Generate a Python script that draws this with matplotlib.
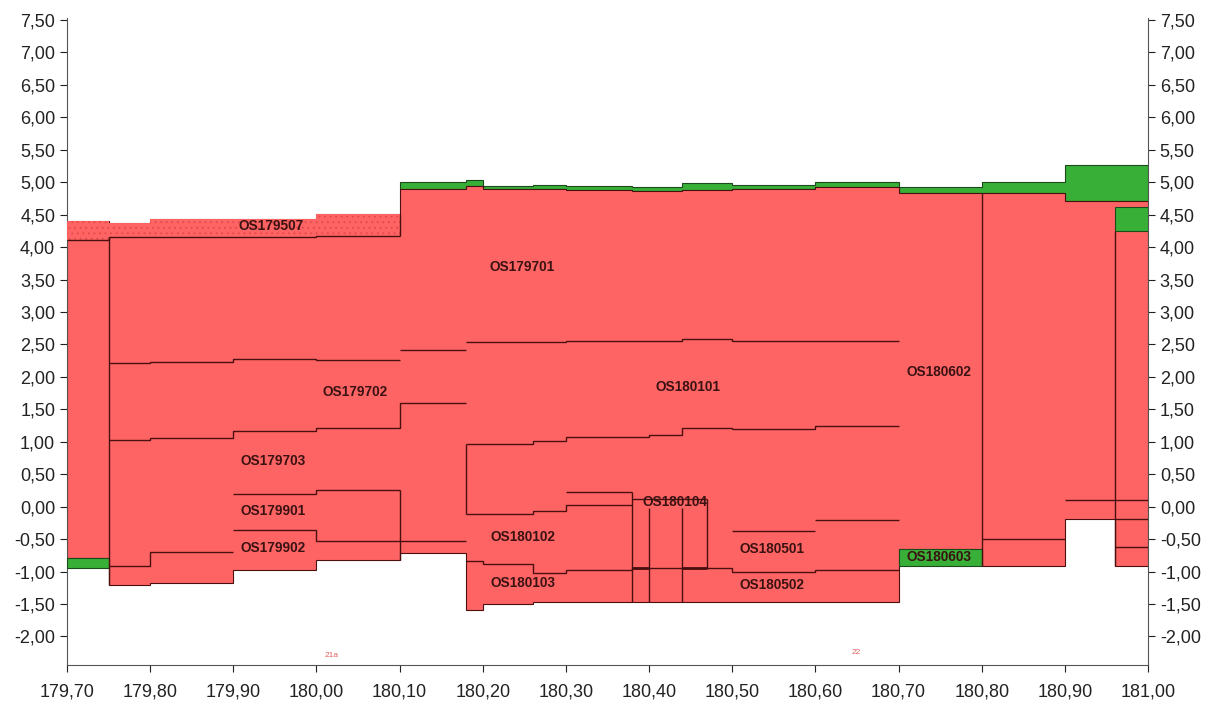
import numpy as np
import matplotlib.pyplot as plt
from matplotlib.ticker import FuncFormatter

plt.rcParams['font.family'] = ['Liberation Sans', 'DejaVu Sans']
plt.rcParams['hatch.linewidth'] = 0.6

# outer profile of the section (chainage, level)
top_edges = [179.70, 179.75, 179.80, 180.00, 180.10, 180.18, 180.20, 180.26, 180.30,
             180.38, 180.44, 180.50, 180.60, 180.70, 180.80, 180.90, 181.00]
red_top = [4.40, 4.37, 4.44, 4.51, 4.89, 4.94, 4.90, 4.90, 4.88, 4.87, 4.88, 4.89,
           4.92, 4.83, 4.84, 4.71]
# green capping from 180.10 onwards
green_top = [5.00, 5.03, 4.94, 4.96, 4.94, 4.92, 4.98, 4.96, 5.00, 4.92, 5.00, 5.27]

bot_edges = [179.70, 179.75, 179.80, 179.90, 180.00, 180.10, 180.18, 180.20, 180.26,
             180.70, 180.80, 180.90, 180.96, 181.00]
red_bot = [-0.79, -1.20, -1.17, -0.98, -0.82, -0.72, -1.59, -1.50, -1.47, -0.66,
           -0.92, -0.19, -0.92]

# hatched layer OS179507
hatch_edges = [179.70, 179.75, 179.80, 180.00, 180.10]
hatch_top = [4.40, 4.37, 4.44, 4.51]
hatch_bot = [4.11, 4.15, 4.16, 4.17]

# green blocks: x0, x1, y0, y1
gb_x0 = [179.70, 180.70, 180.96]
gb_x1 = [179.75, 180.80, 181.00]
gb_y0 = [-0.94, -0.92, 4.25]
gb_y1 = [-0.79, -0.66, 4.62]

# layer boundaries drawn as steps
step_lines = [
    (hatch_edges, hatch_bot),
    ([179.75, 179.80, 179.90, 180.00, 180.10], [2.22, 2.23, 2.27, 2.26]),
    ([180.10, 180.18], [2.41]),
    ([180.18, 180.30, 180.44, 180.50, 180.70], [2.54, 2.55, 2.58, 2.56]),
    ([179.75, 179.80, 179.90, 180.00, 180.10, 180.18], [1.03, 1.06, 1.16, 1.21, 1.59]),
    ([180.18, 180.26, 180.30, 180.40, 180.44, 180.50, 180.60, 180.70],
     [0.97, 1.01, 1.07, 1.11, 1.21, 1.19, 1.24]),
    ([180.18, 180.26, 180.30, 180.38], [-0.11, -0.06, 0.02]),
    ([179.90, 180.00, 180.10], [0.20, 0.26]),
    ([179.90, 180.00, 180.18], [-0.36, -0.53]),
    ([179.75, 179.80, 179.90], [-0.91, -0.70]),
    ([180.18, 180.20, 180.26, 180.30, 180.38, 180.50, 180.60, 180.70],
     [-0.84, -0.89, -1.02, -0.97, -0.94, -1.01, -0.98]),
]
h_x0 = [180.30, 180.38, 180.50, 180.60, 180.80, 180.90, 180.96, 180.96]
h_x1 = [180.38, 180.47, 180.60, 180.70, 180.90, 181.00, 181.00, 181.00]
h_y = [0.23, 0.12, -0.37, -0.21, -0.50, 0.10, -0.19, -0.62]

v_x = [179.75, 180.10, 180.10, 180.18, 180.38, 180.40, 180.44, 180.47, 180.80, 180.96]
v_y0 = [-1.20, -0.82, 4.17, -0.11, -1.47, -1.47, -1.47, -0.94, -0.92, -0.92]
v_y1 = [4.15, 0.26, 4.51, 0.97, 0.23, -0.02, -0.02, 0.12, 4.84, 4.25]

lab_text = ['OS179507', 'OS179701', 'OS179702', 'OS180101', 'OS180602', 'OS179703',
            'OS179901', 'OS179902', 'OS180102', 'OS180103', 'OS180104', 'OS180501',
            'OS180502', 'OS180603']
lab_x = [179.945, 180.247, 180.046, 180.447, 180.748, 179.948, 179.948, 179.948,
         180.248, 180.248, 180.431, 180.548, 180.548, 180.749]
lab_y = [4.33, 3.70, 1.77, 1.84, 2.07, 0.71, -0.06, -0.63, -0.47, -1.17, 0.07,
         -0.66, -1.20, -0.77]

x_ticks = [179.7, 179.8, 179.9, 180.0, 180.1, 180.2, 180.3, 180.4, 180.5, 180.6,
           180.7, 180.8, 180.9, 181.0]
y_ticks = [-2.0, -1.5, -1.0, -0.5, 0.0, 0.5, 1.0, 1.5, 2.0, 2.5, 3.0, 3.5, 4.0,
           4.5, 5.0, 5.5, 6.0, 6.5, 7.0, 7.5]

RED = '#ff6464'
GREEN = '#38b038'
DARK = '#4a0f0f'


def step_val(edges, vals, x):
    idx = np.searchsorted(edges, x, side='right') - 1
    return np.asarray(vals)[idx]


fig = plt.figure(figsize=(12.15, 7.2), dpi=100)
ax = fig.add_axes([67 / 1215, 1 - 665 / 720, (1148 - 67) / 1215, (665 - 18) / 720])

# merge edges so top and bottom share one grid
grid = np.unique(np.concatenate([top_edges, bot_edges]))
mid = (grid[:-1] + grid[1:]) / 2
top_g = step_val(top_edges, red_top, mid)
bot_g = step_val(bot_edges, red_bot, mid)

ax.stairs(green_top, top_edges[4:], baseline=red_top[4:], fill=True,
          facecolor=GREEN, edgecolor='#1d4a1d', lw=0.8, zorder=2)
ax.stairs(top_g, grid, baseline=bot_g, fill=True, facecolor=RED,
          edgecolor=DARK, lw=0.8, zorder=2)
ax.stairs(hatch_top, hatch_edges, baseline=hatch_bot, fill=True, facecolor=RED,
          edgecolor='#e04a4a', lw=0, hatch='...', zorder=3)

ax.bar(gb_x0, np.subtract(gb_y1, gb_y0), width=np.subtract(gb_x1, gb_x0),
       bottom=gb_y0, align='edge', color=GREEN, edgecolor='#1d4a1d', lw=0.8, zorder=3)

for edges, vals in step_lines:
    ax.stairs(vals, edges, baseline=None, color=DARK, lw=1.0, zorder=4)
ax.hlines(h_y, h_x0, h_x1, color=DARK, lw=1.0, zorder=4)
ax.hlines([-0.94, -0.94], [180.38, 180.44], [180.40, 180.47], color=DARK, lw=2.0, zorder=4)
ax.vlines(v_x, v_y0, v_y1, color=DARK, lw=1.0, zorder=4)

for t, x, y in zip(lab_text, lab_x, lab_y):
    ax.text(x, y, t, ha='center', va='center', fontsize=9.8, fontweight='bold',
            color='#3a1212', zorder=5)

ax.text(180.018, -2.29, '21a', ha='center', va='center', fontsize=6, color='#e06060')
ax.text(180.649, -2.24, '22', ha='center', va='center', fontsize=6, color='#e06060')

ax.set_xlim(179.70, 181.00)
ax.set_ylim(-2.44, 7.53)
ax.set_xticks(x_ticks)
ax.set_yticks(y_ticks)
fmt = FuncFormatter(lambda v, p: f"{v:.2f}".replace('.', ','))
ax.xaxis.set_major_formatter(fmt)
ax.yaxis.set_major_formatter(fmt)
ax.tick_params(axis='both', direction='out', length=5, width=0.8, labelsize=13,
               colors='#222222')
ax.tick_params(axis='x', pad=8)
ax.tick_params(axis='y', right=True, labelright=True)
ax.spines['top'].set_visible(False)
for s in ['left', 'right', 'bottom']:
    ax.spines[s].set_color('#555555')
    ax.spines[s].set_linewidth(0.8)

fig.savefig('out.png', dpi=100)
